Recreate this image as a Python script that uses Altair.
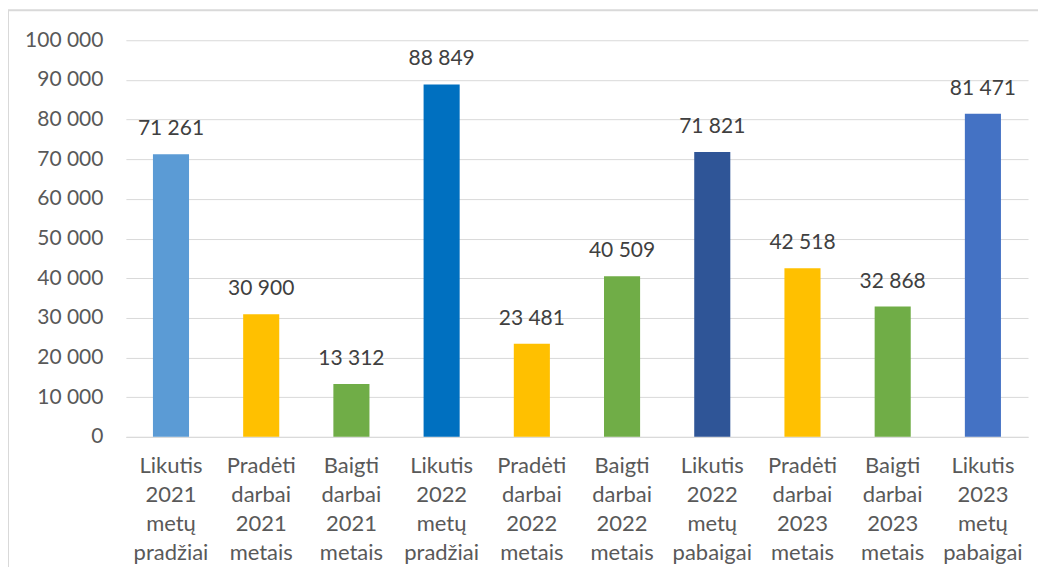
import altair as alt
import pandas as pd

categories = [
    "Likutis 2021 metų pradžiai",
    "Pradėti darbai 2021 metais",
    "Baigti darbai 2021 metais",
    "Likutis 2022 metų pradžiai",
    "Pradėti darbai 2022 metais",
    "Baigti darbai 2022 metais",
    "Likutis 2022 metų pabaigai",
    "Pradėti darbai 2023 metais",
    "Baigti darbai 2023 metais",
    "Likutis 2023 metų pabaigai",
]
values = [71261, 30900, 13312, 88849, 23481, 40509, 71821, 42518, 32868, 81471]
colors = ["#5B9BD5", "#FFC000", "#70AD47", "#0070C0", "#FFC000",
          "#70AD47", "#2F5597", "#FFC000", "#70AD47", "#4472C4"]
y_ticks = list(range(0, 100001, 10000))

df = pd.DataFrame({
    "cat": categories,
    "value": values,
    "label": [f"{v:,}".replace(",", " ") for v in values],
})

W, H = 903, 397
FONT = "Lato"

x = alt.X("cat:N", sort=categories,
          scale=alt.Scale(paddingInner=0.6, paddingOuter=0.3),
          axis=alt.Axis(title=None, labelAngle=0, labelExpr="split(datum.label, ' ')",
                        labelFont=FONT, labelFontSize=22, labelColor="#595959",
                        labelLineHeight=29, labelPadding=19, labelBaseline="top",
                        labelOverlap=False,
                        ticks=False, domain=True, domainColor="#D9D9D9", grid=False))
y = alt.Y("value:Q",
          scale=alt.Scale(domain=[0, 100000], nice=False),
          axis=alt.Axis(title=None, values=y_ticks, tickCount=11,
                        labelExpr="replace(format(datum.value, ','), ',', ' ')",
                        labelFont=FONT, labelFontSize=21, labelColor="#595959",
                        labelPadding=23, labelOverlap=False, ticks=False, domain=False,
                        grid=True, gridColor="#D9D9D9", gridWidth=1))

base = alt.Chart(df)
bars = base.mark_bar().encode(
    x=x, y=y,
    color=alt.Color("cat:N", scale=alt.Scale(domain=categories, range=colors), legend=None),
)
texts = base.mark_text(font=FONT, fontSize=21, color="#404040", baseline="alphabetic", dy=-19).encode(
    x=x, y=y, text="label:N",
)
border = alt.Chart(alt.Data(values=[{"a": 1}])).mark_rect(
    fill=None, stroke="#D9D9D9", strokeWidth=2
).encode(
    x=alt.value(-118), x2=alt.value(W + 100), y=alt.value(-30), y2=alt.value(H + 300)
)

chart = alt.layer(border, bars, texts).properties(
    width=W, height=H,
    autosize=alt.AutoSizeParams(type="none"),
    padding={"left": 118, "top": 32, "right": 10, "bottom": 130},
).configure_view(stroke=None)

chart.save("out.html", embed_options={"renderer": "svg", "actions": False})
